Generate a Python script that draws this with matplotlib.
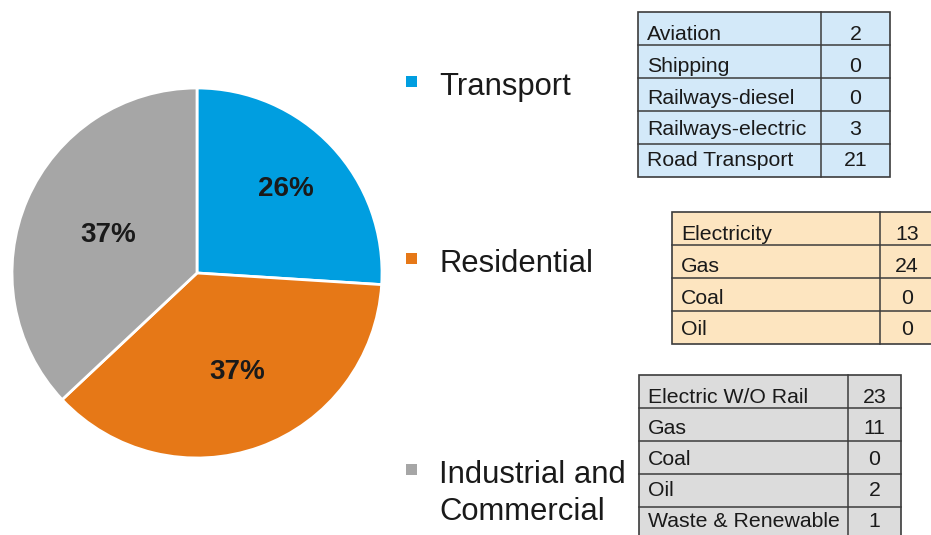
import matplotlib
matplotlib.use('Agg')
import matplotlib.pyplot as plt
from matplotlib.patches import Rectangle

plt.rcParams['font.family'] = ['Liberation Sans', 'DejaVu Sans']

# data
sectors = ['Transport', 'Residential', 'Industrial and\nCommercial']
sector_colors = ['#009EE0', '#E67817', '#A6A6A6']
table_fills = ['#D3E9F9', '#FDE5C0', '#DCDCDC']

transport_items = ['Aviation', 'Shipping', 'Railways-diesel', 'Railways-electric', 'Road Transport']
transport_vals = [2, 0, 0, 3, 21]
residential_items = ['Electricity', 'Gas', 'Coal', 'Oil']
residential_vals = [13, 24, 0, 0]
industrial_items = ['Electric W/O Rail', 'Gas', 'Coal', 'Oil', 'Waste & Renewable']
industrial_vals = [23, 11, 0, 2, 1]

totals = [sum(transport_vals), sum(residential_vals), sum(industrial_vals)]

W, H = 931, 535
fig = plt.figure(figsize=(W / 100, H / 100), dpi=100)

# pie, centre at (197, 273) px, radius 185 px
cx, cy, r = 197, 273, 185
ax = fig.add_axes([(cx - r) / W, (H - cy - r) / H, 2 * r / W, 2 * r / H])
wedges, _, autotexts = ax.pie(totals, colors=sector_colors, startangle=90,
                              counterclock=False, autopct='%1.0f%%',
                              pctdistance=0.6,
                              wedgeprops=dict(edgecolor='white', linewidth=2),
                              textprops=dict(fontsize=20, fontweight='bold',
                                             color='#1a1a1a'))
# nudge labels to where the original puts them
label_pos = [(0.48, 0.455), (0.22, -0.535), (-0.48, 0.205)]
for t, p in zip(autotexts, label_pos):
    t.set_position(p)
ax.set_xlim(-1, 1)
ax.set_ylim(-1, 1)
ax.set_aspect('equal')
ax.set_axis_off()

# overlay in pixel coordinates
ov = fig.add_axes([0, 0, 1, 1])
ov.set_xlim(0, W)
ov.set_ylim(H, 0)
ov.set_axis_off()

# legend (baseline of first line per entry)
legend_base = [95, 272, 483]
for name, col, y in zip(sectors, sector_colors, legend_base):
    ov.add_patch(Rectangle((406, y - 19), 11, 11, facecolor=col, edgecolor='none'))
    for k, line in enumerate(name.split('\n')):
        ov.text(439, y + 37 * k, line, fontsize=22.3, color='#1a1a1a',
                va='baseline', ha='left')


def draw_table(x0, y0, lab_w, val_w, row_h, items, vals, fill, first=28.5, step=31.5):
    n = len(items)
    ov.add_patch(Rectangle((x0, y0), lab_w + val_w, n * row_h, facecolor=fill,
                           edgecolor='#3c3c3c', linewidth=1.2))
    ov.plot([x0 + lab_w, x0 + lab_w], [y0, y0 + n * row_h], color='#3c3c3c', lw=1.1)
    for i in range(1, n):
        yy = y0 + i * row_h
        ov.plot([x0, x0 + lab_w + val_w], [yy, yy], color='#3c3c3c', lw=1.1)
    # text lines run a little tighter than the grid, as in the original slide
    for i, (it, v) in enumerate(zip(items, vals)):
        base = y0 + first + i * step
        ov.text(x0 + 9, base, it, fontsize=15.3, color='#1a1a1a', va='baseline')
        ov.text(x0 + lab_w + val_w / 2, base, str(v), fontsize=15.3,
                color='#1a1a1a', va='baseline', ha='center')


draw_table(638, 12, 183, 69, 33, transport_items, transport_vals, table_fills[0])
draw_table(672, 212, 208, 54, 33, residential_items, residential_vals, table_fills[1])
draw_table(639, 375, 209, 53, 33, industrial_items, industrial_vals, table_fills[2],
           first=28, step=31)

fig.savefig('out.png', dpi=100, facecolor='white')
